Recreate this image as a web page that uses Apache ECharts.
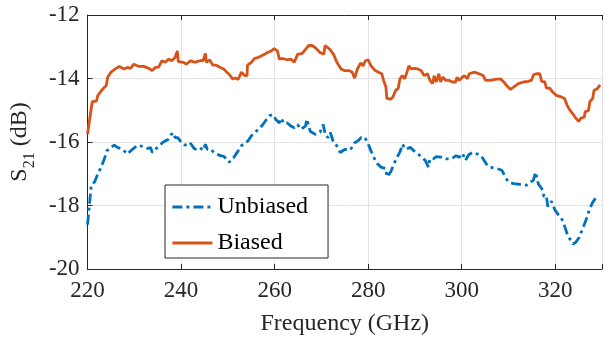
<!DOCTYPE html>
<html>
<head>
<meta charset="utf-8">
<script src="https://cdn.jsdelivr.net/npm/echarts@6/dist/echarts.min.js"></script>
<style>
html,body{margin:0;padding:0;background:#fff;}
#chart{width:605px;height:341px;}
</style>
</head>
<body>
<div id="chart"></div>
<script>
// ---- data ----
const seriesNames = ['Unbiased', 'Biased'];
const xTicks = [220, 240, 260, 280, 300, 320];
const yTicks = [-20, -18, -16, -14, -12];

const biasedFreq = [220.0,221.0,221.9,222.2,223.3,224.0,224.3,225.0,226.1,226.8,227.8,228.5,229.2,229.9,231.0,232.0,233.1,233.8,234.5,235.2,235.9,236.6,237.3,238.0,238.7,239.2,239.4,240.5,241.1,242.1,242.9,244.0,244.7,245.2,245.4,246.1,246.8,247.5,248.4,249.1,249.8,250.5,251.0,251.7,252.2,252.9,253.6,254.1,254.2,255.0,255.7,256.4,257.1,257.8,258.5,259.3,259.9,260.6,261.0,261.7,262.7,263.5,264.2,264.9,265.9,266.6,267.3,268.0,268.7,269.7,270.5,270.8,271.8,272.6,273.3,274.2,274.9,275.9,276.6,277.1,277.7,278.4,278.9,279.4,280.0,280.6,281.5,282.2,282.9,283.3,283.8,284.0,284.8,285.3,285.9,286.4,286.8,287.3,287.8,288.3,288.7,289.2,289.9,290.6,291.3,292.0,292.7,293.2,293.8,294.1,294.6,295.1,295.5,296.0,296.6,297.3,298.0,298.7,299.0,299.5,300.1,300.6,301.2,301.6,302.7,303.7,304.6,305.1,306.2,307.2,308.3,309.0,309.7,310.4,311.1,312.1,313.2,314.2,314.9,315.4,316.0,316.7,317.1,317.8,318.1,318.8,319.4,320.2,321.3,322.0,322.5,323.1,323.8,324.4,325.0,325.5,326.2,326.4,327.1,327.4,328.0,328.3,329.0,329.6];
const biasedS21 = [-15.75,-14.73,-14.71,-14.53,-14.32,-14.22,-13.96,-13.80,-13.68,-13.62,-13.70,-13.65,-13.68,-13.55,-13.62,-13.62,-13.68,-13.75,-13.65,-13.64,-13.44,-13.49,-13.39,-13.44,-13.34,-13.13,-13.47,-13.49,-13.55,-13.44,-13.49,-13.44,-13.44,-13.21,-13.49,-13.41,-13.58,-13.58,-13.65,-13.70,-13.80,-13.91,-14.01,-13.99,-14.03,-13.80,-13.91,-13.91,-13.58,-13.49,-13.37,-13.34,-13.29,-13.24,-13.18,-13.13,-13.06,-13.13,-13.39,-13.37,-13.41,-13.39,-13.49,-13.24,-13.21,-13.08,-12.96,-12.96,-13.03,-13.18,-13.24,-12.96,-13.08,-13.24,-13.49,-13.70,-13.75,-13.75,-13.80,-13.99,-13.70,-13.51,-13.60,-13.44,-13.41,-13.60,-13.75,-13.80,-13.85,-14.06,-14.27,-14.63,-14.65,-14.58,-14.37,-14.32,-14.01,-13.91,-14.01,-13.80,-13.60,-13.70,-13.68,-13.70,-13.75,-13.91,-13.85,-14.06,-14.16,-13.91,-14.11,-13.85,-14.11,-13.96,-14.06,-14.06,-14.11,-14.11,-13.96,-14.06,-13.96,-13.91,-14.01,-13.85,-13.80,-13.85,-13.91,-14.06,-14.06,-14.03,-14.01,-14.11,-14.24,-14.34,-14.27,-14.16,-14.11,-14.09,-14.06,-13.88,-13.85,-13.85,-14.09,-14.11,-14.30,-14.30,-14.42,-14.53,-14.58,-14.63,-14.83,-14.99,-15.12,-15.25,-15.35,-15.25,-15.22,-15.04,-15.02,-14.73,-14.63,-14.37,-14.32,-14.20];

const unbiasedFreq = [220.0,220.4,220.8,221.5,222.2,222.9,223.6,224.1,225.0,225.7,226.4,227.5,228.5,229.6,230.7,231.7,232.8,233.5,233.8,234.5,235.3,236.2,237.2,237.9,238.4,238.7,239.3,240.1,240.8,241.9,242.9,244.0,244.7,245.2,245.6,246.4,247.0,247.7,248.4,249.1,249.8,250.3,250.8,251.3,252.2,252.9,253.6,254.3,255.0,255.7,256.6,257.5,258.2,258.9,259.6,260.3,261.0,261.4,262.0,262.7,263.5,264.2,264.9,265.6,266.6,266.9,267.6,268.7,269.7,270.4,270.8,271.4,271.9,272.6,273.3,274.0,275.0,276.1,276.6,277.1,277.8,278.5,279.2,279.9,280.6,281.7,282.7,283.8,284.0,284.8,285.5,286.2,286.9,287.3,288.0,289.0,289.8,291.1,292.2,292.9,293.2,293.9,294.6,295.7,296.7,297.8,298.8,299.5,300.2,300.8,301.5,302.3,303.4,304.1,304.8,305.5,306.5,307.6,308.6,309.3,310.0,311.1,312.1,313.2,313.9,314.6,315.3,315.8,316.4,317.1,317.6,318.1,318.4,319.2,319.9,320.6,321.3,322.0,322.7,323.8,324.4,325.1,325.8,326.5,327.2,327.9,328.6,329.3];
const unbiasedS21 = [-18.60,-17.98,-17.36,-17.26,-17.00,-16.79,-16.53,-16.28,-16.17,-16.10,-16.17,-16.23,-16.38,-16.23,-16.10,-16.14,-16.20,-16.18,-16.33,-16.23,-16.12,-16.00,-15.92,-15.76,-15.71,-15.86,-15.86,-16.02,-16.10,-16.02,-16.23,-16.17,-16.27,-16.07,-16.23,-16.23,-16.33,-16.38,-16.43,-16.45,-16.55,-16.64,-16.53,-16.48,-16.28,-16.12,-16.02,-15.97,-15.81,-15.71,-15.59,-15.45,-15.30,-15.17,-15.14,-15.30,-15.40,-15.25,-15.42,-15.40,-15.50,-15.55,-15.45,-15.60,-15.50,-15.28,-15.66,-15.76,-15.69,-15.45,-15.76,-15.86,-15.70,-16.02,-16.12,-16.33,-16.23,-16.26,-16.15,-16.02,-15.97,-15.86,-15.84,-16.02,-16.28,-16.64,-16.79,-16.84,-17.10,-16.95,-16.69,-16.48,-16.28,-16.07,-16.23,-16.17,-16.28,-16.43,-16.58,-16.79,-16.53,-16.53,-16.46,-16.48,-16.53,-16.53,-16.43,-16.48,-16.36,-16.58,-16.40,-16.33,-16.38,-16.43,-16.58,-16.74,-16.81,-16.84,-16.89,-17.10,-17.26,-17.31,-17.33,-17.36,-17.36,-17.26,-17.21,-16.95,-17.33,-17.46,-17.72,-17.70,-18.03,-17.87,-18.13,-18.28,-18.39,-18.65,-18.96,-19.21,-19.16,-19.01,-18.75,-18.49,-18.18,-17.93,-17.77,-17.82];

// ---- chart ----
const pairs = (xs, ys) => xs.map((x, i) => [x, ys[i]]);
const FONT = 'Liberation Serif';
const AX = '#262626';
const BLUE = '#0072BD', ORANGE = '#D95319';
const DASHDOT = [10, 4, 3, 4];
const chart = echarts.init(document.getElementById('chart'), null, {renderer: 'canvas'});

const xCommon = {
  type: 'value', min: xTicks[0], max: 330, interval: 20,
  axisLine: {show: true, lineStyle: {color: AX, width: 1}},
  axisTick: {show: true, inside: true, length: 5, lineStyle: {color: AX}},
};

chart.setOption({
  animation: false,
  backgroundColor: '#fff',
  grid: {left: 85, top: 15, right: -3, bottom: 67, containLabel: false},
  xAxis: [
    Object.assign({}, xCommon, {
      position: 'bottom',
      name: 'Frequency (GHz)', nameLocation: 'middle', nameGap: 43,
      nameTextStyle: {fontFamily: FONT, fontSize: 24, color: AX},
      axisLabel: {
        fontFamily: FONT, fontSize: 23, color: AX, margin: 10,
        formatter: v => (xTicks.indexOf(v) >= 0 ? String(v) : '')
      },
      splitLine: {show: true, lineStyle: {color: '#e3e3e3', width: 1}}
    }),
    Object.assign({}, xCommon, {
      position: 'top', axisLabel: {show: false}, splitLine: {show: false}
    })
  ],
  yAxis: {
    type: 'value', min: yTicks[0], max: yTicks[yTicks.length - 1], interval: 2,
    axisLine: {show: true, lineStyle: {color: AX, width: 1}},
    axisTick: {show: true, inside: true, length: 5, lineStyle: {color: AX}},
    axisLabel: {fontFamily: FONT, fontSize: 23, color: AX, margin: 8},
    splitLine: {show: true, lineStyle: {color: '#e3e3e3', width: 1}},
    name: '{a|S}{b|21}{a| (dB)}', nameLocation: 'middle', nameRotate: 90, nameGap: 53,
    nameTextStyle: {
      fontFamily: FONT, color: AX,
      rich: {
        a: {fontFamily: FONT, fontSize: 24, color: AX, lineHeight: 28},
        b: {fontFamily: FONT, fontSize: 16, color: AX, verticalAlign: 'bottom', lineHeight: 16, padding: [0, 0, -4, 0]}
      }
    }
  },
  legend: {
    show: true,
    orient: 'vertical', left: 165, top: 185,
    data: seriesNames,
    itemWidth: 40, itemHeight: 14, itemGap: 12,
    padding: [10, 20, 3, 6],
    itemStyle: {opacity: 0},
    lineStyle: {width: 2.8},
    backgroundColor: '#fff', borderColor: AX, borderWidth: 1, borderRadius: 0,
    textStyle: {fontFamily: FONT, fontSize: 24, color: '#000'}
  },
  series: [
    {
      name: seriesNames[0], type: 'line', xAxisIndex: 0,
      data: pairs(unbiasedFreq, unbiasedS21),
      showSymbol: false, symbol: 'none',
      lineStyle: {color: BLUE, width: 2.8, type: DASHDOT},
      itemStyle: {color: BLUE}, z: 3
    },
    {
      name: seriesNames[1], type: 'line', xAxisIndex: 0,
      data: pairs(biasedFreq, biasedS21),
      showSymbol: false, symbol: 'none',
      lineStyle: {color: ORANGE, width: 2.8},
      itemStyle: {color: ORANGE}, z: 2
    }
  ]
});
</script>
</body>
</html>
